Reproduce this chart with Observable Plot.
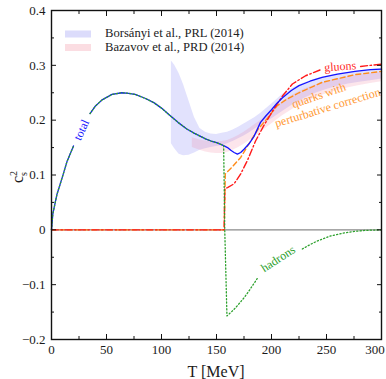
<!DOCTYPE html>
<html><head><meta charset="utf-8">
<script src="https://cdn.jsdelivr.net/npm/d3@7"></script>
<script src="https://cdn.jsdelivr.net/npm/@observablehq/plot@0.6"></script>
<style>
body{margin:0;background:#fff}
#chart{position:relative;width:386px;height:379px}
</style>
</head><body><div id="chart"></div>
<script>
// ---- data ----
const totalT = [0,1.2,5,10,14,20,27,35,40,46,55,64,70,76,85,93,100,108,115,123,130,135,140,145,150,155,157,160,163,166,169,172,175,180,184,190,195,200,205,210,218,225,235,246,260,276,290,300];
const totalC = [0,0.029,0.065,0.097,0.124,0.153,null,0.212,0.226,0.237,0.247,0.250,0.249,0.247,0.240,0.232,0.222,0.208,0.196,0.184,0.176,0.171,0.166,0.162,0.159,0.155,0.153,0.150,0.145,0.141,0.138,0.141,0.147,0.158,0.170,0.196,0.208,0.219,0.231,0.241,0.254,0.263,0.271,0.278,0.284,0.289,0.292,0.293];

const hadronsT = [0,1.2,5,10,14,20,27,35,40,46,55,64,70,76,85,93,100,108,115,123,130,135,140,145,150,155,156.5,157.5,159.5,165,170,175,180,187,207,228,235,242,254,265,275,285,300];
const hadronsC = [0,0.029,0.065,0.097,0.124,0.153,null,0.212,0.226,0.237,0.247,0.250,0.249,0.247,0.240,0.232,0.222,0.208,0.196,0.184,0.176,0.171,0.166,0.162,0.159,0.155,0.154,0,-0.157,-0.147,-0.136,-0.124,-0.110,-0.089,null,-0.035,-0.027,-0.020,-0.011,-0.006,-0.003,-0.001,0];

const gluonsT = [0,157,157.5,160,166,172,178,185.5,193,202,210,219,231,246,262,281,290,300];
const gluonsC = [0,0,0.075,0.077,0.084,0.102,0.126,0.162,0.190,0.220,0.244,0.266,0.281,0.293,null,0.298,0.300,0.302];

const quarksT = [0,157,158,164,172,181,188,197,205,213,225,246,276,300];
const quarksC = [0,0,0.102,0.114,0.132,0.162,0.184,0.205,0.226,0.237,0.250,0.269,0.283,0.289];

const borsanyiT  = [109,112,116,120,125,130,135,140,145,150,155,160,165,170,175,180,185,190,200,210,220,230,240,250,260,270,280,290,300];
const borsanyiHi = [0.308,0.300,0.285,0.265,0.235,0.205,0.185,0.178,0.175,0.174,0.176,0.178,0.182,0.187,0.193,0.199,0.205,0.212,0.229,0.247,0.259,0.268,0.275,0.280,0.284,0.287,0.290,0.292,0.294];
const borsanyiLo = [0.157,0.148,0.138,0.135,0.136,0.140,0.145,0.148,0.150,0.152,0.154,0.157,0.161,0.166,0.171,0.177,0.184,0.191,0.202,0.216,0.229,0.240,0.249,0.256,0.262,0.266,0.269,0.272,0.275];

const bazavovT  = [128,135,140,145,150,155,160,165,170,175,180,185,190,200,210,220,230,240,250,260,270,280,290,300];
const bazavovHi = [0.168,0.164,0.162,0.161,0.160,0.161,0.163,0.167,0.172,0.178,0.185,0.192,0.199,0.217,0.234,0.247,0.257,0.264,0.270,0.275,0.279,0.282,0.285,0.287];
const bazavovLo = [0.150,0.145,0.142,0.140,0.139,0.139,0.141,0.145,0.150,0.156,0.163,0.170,0.178,0.193,0.208,0.221,0.232,0.241,0.248,0.254,0.259,0.263,0.267,0.270];

const xTicks = [0,50,100,150,200,250,300];
const xTickLabels = ["0","50","100","150","200","250","300"];
const xMinor = [25,75,125,175,225,275];
const yTicks = [-0.2,-0.1,0,0.1,0.2,0.3,0.4];
const yTickLabels = ["\u22120.2","\u22120.1","0","0.1","0.2","0.3","0.4"];
const yMinor = [-0.15,-0.05,0.05,0.15,0.25,0.35];

const legendNames = ["Borsányi et al., PRL (2014)","Bazavov et al., PRD (2014)"];
const curveLabels = ["total","gluons","quarks with","perturbative correction","hadrons"];
const curveLabelT = [27.3,262.5,243,251,206];
const curveLabelC = [0.182,0.298,0.245,0.223,-0.053];

// ---- build tables ----
const series = (T, C) => T.map((t, i) => ({T: t, c: C[i]}));
const band = (T, lo, hi) => T.map((t, i) => ({T: t, lo: lo[i], hi: hi[i]}));
const total = series(totalT, totalC);
const hadrons = series(hadronsT, hadronsC);
const gluons = series(gluonsT, gluonsC);
const quarks = series(quarksT, quarksC);
const bors = band(borsanyiT, borsanyiLo, borsanyiHi);
const baz = band(bazavovT, bazavovLo, bazavovHi);
const xFmt = new Map(xTicks.map((d, i) => [d, xTickLabels[i]]));
const yFmt = new Map(yTicks.map((d, i) => [d, yTickLabels[i]]));
const xLast = xTicks[xTicks.length - 1];

const FONT = "'Liberation Serif', serif";
const labelStyle = [
  {color: "#1a1aff", rotate: -65},
  {color: "#ff2a2a", rotate: -4},
  {color: "#ff9933", rotate: -19},
  {color: "#ff9933", rotate: -17},
  {color: "#2ca02c", rotate: -33}
];
const labelMarks = curveLabels.map((t, i) => Plot.text([{T: curveLabelT[i], c: curveLabelC[i], t}], {
  x: "T", y: "c", text: "t", fill: labelStyle[i].color, rotate: labelStyle[i].rotate,
  fontSize: 12, textAnchor: "middle"
}));

const tickOpts = {label: null, fill: "none", stroke: "#111", strokeWidth: 1};
const textOpts = {tickSize: 0, label: null, fontSize: 13, fill: "#1a1a1a"};

const chart = Plot.plot({
  width: 386, height: 379,
  marginLeft: 51, marginRight: 5, marginTop: 10, marginBottom: 40,
  style: {fontFamily: FONT, fontSize: "13px", color: "#1a1a1a", background: "#fff", overflow: "visible"},
  x: {domain: [0, 300]},
  y: {domain: [-0.2, 0.4]},
  marks: [
    Plot.areaY(bors, {x: "T", y1: "lo", y2: "hi", fill: "#7070f5", fillOpacity: 0.2}),
    Plot.areaY(baz, {x: "T", y1: "lo", y2: "hi", fill: "#f07090", fillOpacity: 0.18}),
    Plot.ruleY([0], {stroke: "#8a8a8a", strokeWidth: 1.3}),
    Plot.line(quarks, {x: "T", y: "c", stroke: "#ff8c1a", strokeWidth: 1.4, strokeDasharray: "5,3"}),
    Plot.line(gluons, {x: "T", y: "c", stroke: "#ff1a1a", strokeWidth: 1.4, strokeDasharray: "7,2.5,1.5,2.5"}),
    Plot.line(total, {x: "T", y: "c", stroke: "#1414ff", strokeWidth: 1.3}),
    Plot.line(hadrons, {x: "T", y: "c", stroke: "#2ca02c", strokeWidth: 1.3, strokeDasharray: "1.2,2.2"}),
    ...labelMarks,
    Plot.axisX(xTicks.filter(d => d !== xLast), {anchor: "bottom", tickPadding: 5, tickFormat: d => xFmt.get(d), ...textOpts}),
    Plot.axisX([xLast], {anchor: "bottom", tickPadding: 5, tickFormat: d => xFmt.get(d), dx: -6.5, ...textOpts}),
    Plot.axisY(yTicks, {anchor: "left", tickPadding: 6, tickFormat: d => yFmt.get(d), ...textOpts}),
    Plot.axisX(xTicks, {anchor: "bottom", tickSize: -5, ...tickOpts}),
    Plot.axisX(xMinor, {anchor: "bottom", tickSize: -3, ...tickOpts}),
    Plot.axisX(xTicks, {anchor: "top", tickSize: -5, ...tickOpts}),
    Plot.axisX(xMinor, {anchor: "top", tickSize: -3, ...tickOpts}),
    Plot.axisY(yTicks, {anchor: "left", tickSize: -5, ...tickOpts}),
    Plot.axisY(yMinor, {anchor: "left", tickSize: -3, ...tickOpts}),
    Plot.axisY(yTicks, {anchor: "right", tickSize: -5, ...tickOpts}),
    Plot.axisY(yMinor, {anchor: "right", tickSize: -3, ...tickOpts}),
    Plot.frame({stroke: "#111", strokeWidth: 1.4})
  ]
});

document.getElementById("chart").appendChild(chart);

// ---- legend, axis titles ----
const svg = d3.select(chart);
const legendFill = ["#dcdcfb", "#fbdde2"];
legendNames.forEach((name, i) => {
  svg.append("rect").attr("x", 65).attr("y", 30.5 + i * 13.5).attr("width", 26).attr("height", 7)
    .attr("fill", legendFill[i]);
  svg.append("text").attr("x", 105).attr("y", 37 + i * 13.5).attr("text-anchor", "start")
    .attr("font-family", FONT).attr("font-size", 12.6).attr("fill", "#222")
    .text(name);
});
svg.append("text").attr("x", 216).attr("y", 377).attr("text-anchor", "middle")
  .attr("font-family", FONT).attr("font-size", 16).attr("fill", "#1a1a1a")
  .text("T [MeV]");
const yl = svg.append("text").attr("transform", "translate(23,183) rotate(-90)").attr("text-anchor", "start")
  .attr("font-family", FONT).attr("font-size", 16).attr("fill", "#1a1a1a");
yl.append("tspan").text("c");
yl.append("tspan").attr("font-size", 10).attr("dy", -6).text("2");
yl.append("tspan").attr("font-size", 10).attr("dx", -5).attr("dy", 10).text("s");
</script></body></html>
